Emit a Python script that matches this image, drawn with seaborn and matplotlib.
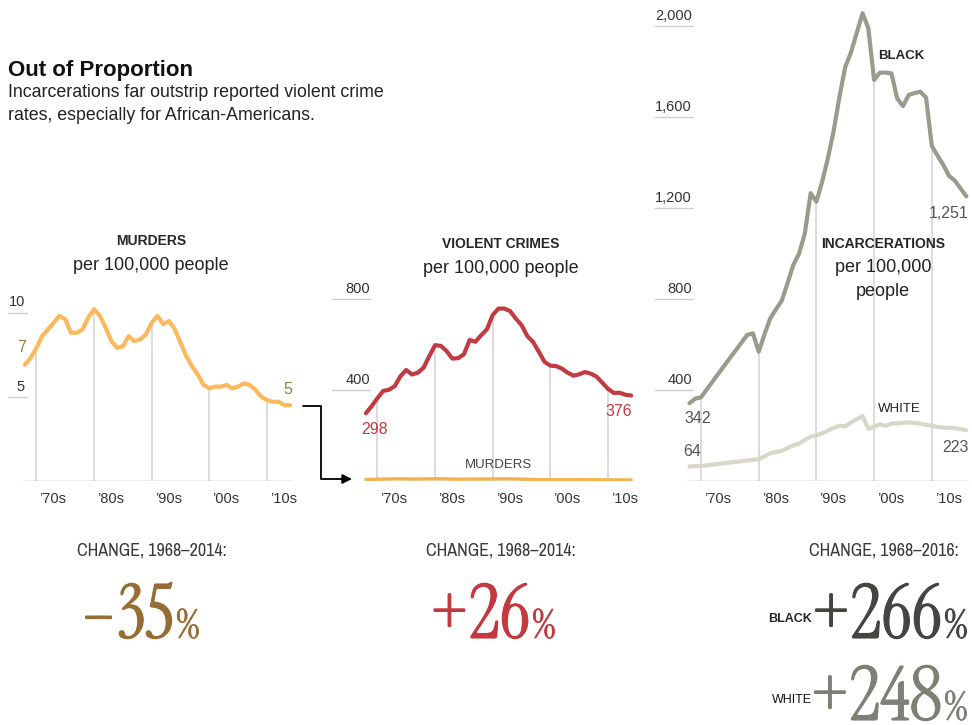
import numpy as np
import pandas as pd
import seaborn as sns
import matplotlib.pyplot as plt
import matplotlib.patheffects as pe
from matplotlib.patches import FancyArrowPatch
from matplotlib.path import Path

# murders per 100,000 people, 1968-2014
murder_years = np.arange(1968, 2015)
murders = [6.9, 7.3, 7.9, 8.6, 9.0, 9.4, 9.8, 9.6, 8.8, 8.8, 9.0, 9.7, 10.2, 9.8, 9.1,
           8.3, 7.9, 8.0, 8.6, 8.3, 8.4, 8.7, 9.4, 9.8, 9.3, 9.5, 9.0, 8.2, 7.4, 6.8,
           6.3, 5.7, 5.5, 5.6, 5.6, 5.7, 5.5, 5.6, 5.8, 5.7, 5.4, 5.0, 4.8, 4.7, 4.7,
           4.5, 4.5]

# violent crimes per 100,000 people, 1968-2014
violent = [298, 329, 364, 396, 401, 417, 461, 488, 468, 476, 498, 549, 597, 594, 571,
           538, 540, 557, 620, 612, 641, 667, 730, 758, 758, 747, 714, 685, 637, 611,
           568, 523, 507, 505, 494, 476, 463, 469, 479, 472, 459, 432, 405, 387, 388,
           379, 376]

# incarcerations per 100,000 people, 1968-2016
incarc_years = np.arange(1968, 2017)
black = [342, 362, 368, 403, 437, 472, 506, 540, 574, 608, 642, 649, 568, 645, 715,
         755, 793, 870, 950, 1000, 1089, 1265, 1228, 1316, 1420, 1540, 1690, 1820, 1885,
         1970, 2056, 1990, 1763, 1795, 1795, 1792, 1682, 1648, 1697, 1705, 1711, 1686,
         1473, 1430, 1389, 1341, 1320, 1285, 1251]
white = [64, 65, 66, 69, 72, 75, 78, 81, 84, 87, 90, 93, 95, 108, 122, 128, 133, 145,
         157, 165, 180, 195, 200, 210, 222, 233, 243, 240, 258, 272, 286, 229, 239, 249,
         242, 253, 253, 256, 258, 255, 252, 247, 243, 237, 235, 234, 232, 228, 223]

decades = [1970, 1980, 1990, 2000, 2010]
decade_labels = ["\u201970s", "\u201980s", "\u201990s", "\u201900s", "\u201910s"]

murder_end_labels = ["7", "5"]
violent_end_labels = ["298", "376"]
black_end_labels = ["342", "1,251"]
white_end_labels = ["64", "223"]

changes = ["\u201335", "+26", "+266", "+248"]

sns.set_theme(style="white")
plt.rcParams["font.family"] = ["Liberation Sans", "DejaVu Sans"]

W, H = 972, 725
fig = plt.figure(figsize=(W / 100, H / 100), dpi=100)


def add_ax(left, base, width, height):
    ax = fig.add_axes([left / W, 1 - base / H, width / W, height / H])
    ax.axis("off")
    return ax


def ftext(x, y, s, **kw):
    return fig.text(x / W, 1 - y / H, s, **kw)


def yticks(ax, vals, labels, x0, x1, xl):
    tr = ax.get_yaxis_transform()
    for v, lab in zip(vals, labels):
        ax.plot([x0, x1], [v, v], transform=tr, color="#cfcfcf", lw=1, clip_on=False)
        ax.annotate(lab, xy=(xl, v), xycoords=tr, xytext=(0, 6), textcoords="offset pixels",
                    ha="right", va="baseline", fontsize=10.5, color="#333333")


def decade_marks(ax, years, vals):
    lookup = dict(zip(years, vals))
    ax.vlines(decades, 0, [lookup[d] for d in decades], color="#d6d6d6", lw=1.2, zorder=1)
    ax.axhline(0, color="#aaaaaa", lw=1, zorder=1)
    for d, lab in zip(decades, decade_labels):
        ax.annotate(lab, xy=(d, 0), xytext=(3, -22), textcoords="offset pixels",
                    ha="left", va="baseline", fontsize=10.5, color="#333333")


# murders panel
ax1 = add_ax(22, 481, 271, 12 * 16.85)
ax1.set_xlim(1967.5, 2014.5)
ax1.set_ylim(0, 12)
decade_marks(ax1, murder_years, murders)
sns.lineplot(x=murder_years, y=murders, ax=ax1, color="#fbb95c", lw=3, zorder=3)
yticks(ax1, [5, 10], ["5", "10"], -0.052, 0.019, 0.011)
ax1.annotate(murder_end_labels[0], xy=(murder_years[0], murders[0]), xytext=(-3, 17),
             textcoords="offset pixels", ha="center", va="center", fontsize=11.5, color="#9b7a40")
ax1.annotate(murder_end_labels[1], xy=(murder_years[-1], murders[-1]), xytext=(-2, 16),
             textcoords="offset pixels", ha="center", va="center", fontsize=11.5, color="#9b7a40")

# violent crimes panel
ax2 = add_ax(363, 481, 271, 900 * 0.2275)
ax2.set_xlim(1967.5, 2014.5)
ax2.set_ylim(0, 900)
decade_marks(ax2, murder_years, violent)
sns.lineplot(x=murder_years, y=violent, ax=ax2, color="#c13b40", lw=3, zorder=3)
sns.lineplot(x=murder_years, y=murders, ax=ax2, color="#f3b24a", lw=2.4, zorder=3)
yticks(ax2, [400, 800], ["400", "800"], -0.114, 0.026, 0.026)
ax2.annotate(violent_end_labels[0], xy=(murder_years[0], violent[0]), xytext=(9, -16),
             textcoords="offset pixels", ha="center", va="center", fontsize=11.5, color="#c4373d")
ax2.annotate(violent_end_labels[1], xy=(murder_years[-1], violent[-1]), xytext=(-12, -16),
             textcoords="offset pixels", ha="center", va="center", fontsize=11.5, color="#c4373d")
ax2.annotate("MURDERS", xy=(1991, murders[23]), xytext=(0, 14), textcoords="offset pixels",
             ha="center", va="center", fontsize=9.5, color="#444444")

# incarcerations panel
ax3 = add_ax(686.6, 481, 282.7, 2120 * 0.2275)
ax3.set_xlim(1967.5, 2016.5)
ax3.set_ylim(0, 2120)
decade_marks(ax3, incarc_years, black)
sns.lineplot(x=incarc_years, y=white, ax=ax3, color="#d8d7ca", lw=3, zorder=3)
sns.lineplot(x=incarc_years, y=black, ax=ax3, color="#9a9a8e", lw=3, zorder=3)
yticks(ax3, [400, 800, 1200, 1600, 2000], ["400", "800", "1,200", "1,600", "2,000"],
       -0.112, 0.023, 0.019)
ax3.annotate(black_end_labels[0], xy=(incarc_years[0], black[0]), xytext=(8, -15),
             textcoords="offset pixels", ha="center", va="center", fontsize=11.5, color="#555555")
ax3.annotate(black_end_labels[1], xy=(incarc_years[-1], black[-1]), xytext=(-18, -17),
             textcoords="offset pixels", ha="center", va="center", fontsize=11.5, color="#555555")
ax3.annotate(white_end_labels[0], xy=(incarc_years[0], white[0]), xytext=(3, 15),
             textcoords="offset pixels", ha="center", va="center", fontsize=11.5, color="#555555")
ax3.annotate(white_end_labels[1], xy=(incarc_years[-1], white[-1]), xytext=(-11, -17),
             textcoords="offset pixels", ha="center", va="center", fontsize=11.5, color="#555555")

# arrow from murders to the violent-crime scale
arrow = FancyArrowPatch(path=Path([(303 / W, 1 - 406 / H), (321 / W, 1 - 406 / H),
                                   (321 / W, 1 - 479 / H), (352 / W, 1 - 479 / H)]),
                        arrowstyle="-|>", mutation_scale=14, color="black", lw=1.3,
                        transform=fig.transFigure)
fig.add_artist(arrow)

# headings
ftext(8, 76, "Out of Proportion", fontsize=16, fontweight="bold", color="#111111", va="baseline")
ftext(8, 97, "Incarcerations far outstrip reported violent crime", fontsize=12.8,
      color="#222222", va="baseline")
ftext(8, 120, "rates, especially for African-Americans.", fontsize=12.8, color="#222222",
      va="baseline")

ftext(151, 245, "MURDERS", fontsize=10, fontweight="bold", ha="center", va="baseline")
ftext(151, 270, "per 100,000 people", fontsize=13, ha="center", va="baseline", color="#222222")
ftext(501, 248, "VIOLENT CRIMES", fontsize=10, fontweight="bold", ha="center", va="baseline")
ftext(501, 273, "per 100,000 people", fontsize=13, ha="center", va="baseline", color="#222222")
ftext(883, 248, "INCARCERATIONS", fontsize=10, fontweight="bold", ha="center", va="baseline")
ftext(883, 272, "per 100,000", fontsize=13, ha="center", va="baseline", color="#222222")
ftext(883, 296, "people", fontsize=13, ha="center", va="baseline", color="#222222")
ftext(901, 59, "BLACK", fontsize=9.5, fontweight="bold", ha="center", va="baseline")
ftext(899, 412, "WHITE", fontsize=9.5, ha="center", va="baseline", color="#222222")

# change figures
cond = dict(family=["Archivo Narrow", "DejaVu Sans"], fontsize=13, va="baseline",
            color="#3a3a3a", ha="center")
ftext(152, 556, "CHANGE, 1968\u20132014:", **cond)
ftext(501, 556, "CHANGE, 1968\u20132014:", **cond)
ftext(884, 556, "CHANGE, 1968\u20132016:", **cond)

big = dict(family=["Instrument Serif", "DejaVu Serif"], va="baseline")
for (x, y, s, col) in [(174, 638, changes[0], "#976d33"), (530, 638, changes[1], "#c4393f"),
                       (942, 638, changes[2], "#444440"), (942, 720, changes[3], "#7f7f76")]:
    t = ftext(x, y, s, fontsize=54, ha="right", color=col, **big)
    t.set_path_effects([pe.withStroke(linewidth=0.8, foreground=col)])
    t = ftext(x + 2, y, "%", fontsize=29, ha="left", color=col, **big)
    t.set_path_effects([pe.withStroke(linewidth=0.5, foreground=col)])
ftext(812, 622, "BLACK", fontsize=9, fontweight="bold", ha="right", va="baseline")
ftext(812, 703, "WHITE", fontsize=9, ha="right", va="baseline", color="#111111")

fig.savefig("out.png", dpi=100)
